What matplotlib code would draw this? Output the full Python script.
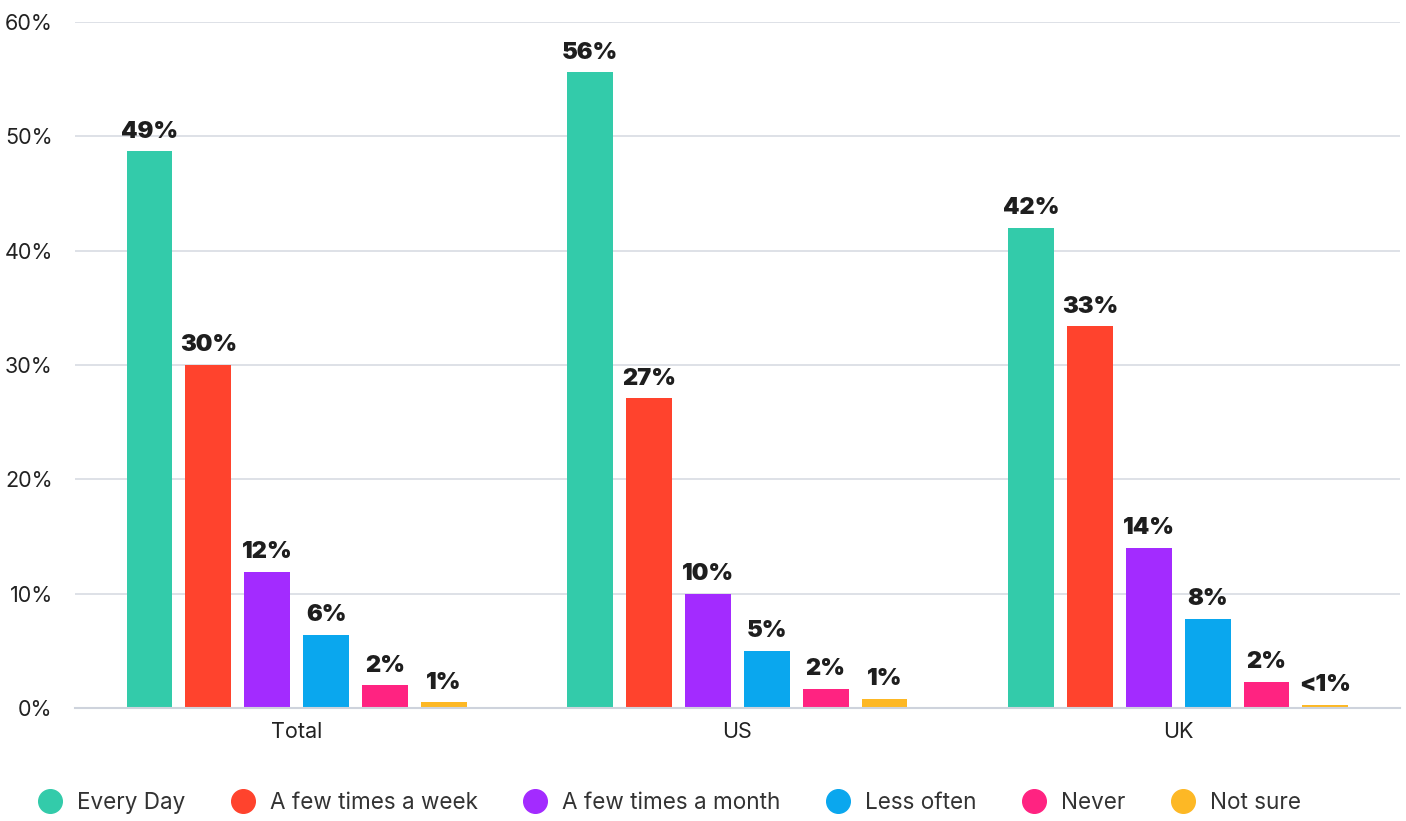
import matplotlib.pyplot as plt
import numpy as np

plt.rcParams['font.family'] = ['Inter', 'DejaVu Sans']

groups = ['Total', 'US', 'UK']
series = ['Every Day', 'A few times a week', 'A few times a month', 'Less often', 'Never', 'Not sure']
values = [
    [48.7, 55.6, 42.0],   # Every Day
    [30.0, 27.1, 33.4],   # A few times a week
    [11.9, 10.0, 14.0],   # A few times a month
    [6.4, 5.0, 7.8],      # Less often
    [2.0, 1.7, 2.3],      # Never
    [0.5, 0.8, 0.3],      # Not sure
]
labels = [
    ['49%', '56%', '42%'],
    ['30%', '27%', '33%'],
    ['12%', '10%', '14%'],
    ['6%', '5%', '8%'],
    ['2%', '2%', '2%'],
    ['1%', '1%', '<1%'],
]
colors = ['#33CBAA', '#FF432D', '#A32BFF', '#0AA7EE', '#FF2381', '#FDB825']

fig = plt.figure(figsize=(14.06, 8.21), dpi=100)
ax = fig.add_axes([0.0533, 0.1376, 0.9424, 0.8356])

x = np.arange(len(groups))
width = 0.104
step = 0.1335
for i, (name, vals) in enumerate(zip(series, values)):
    pos = x + (i - 2.5) * step
    bars = ax.bar(pos, vals, width, color=colors[i], label=name, zorder=2)
    for b, lab in zip(bars, labels[i]):
        ax.text(b.get_x() + b.get_width() / 2, b.get_height() + 0.75, lab,
                ha='center', va='bottom', fontsize=17, fontweight='black',
                color='#1e1e1e', zorder=3)

ax.set_xlim(-0.503, 2.503)
ax.set_ylim(0, 60)
ax.set_yticks(range(0, 61, 10))
ax.set_yticklabels([f'{v}%' for v in range(0, 61, 10)])
ax.set_xticks(x)
ax.set_xticklabels(groups)
ax.tick_params(axis='both', length=0, labelsize=15.5, colors='#222222')
ax.tick_params(axis='y', pad=16)
ax.tick_params(axis='x', pad=10)
ax.grid(axis='y', color='#D8DCE3', linewidth=1.2, zorder=0)
ax.set_axisbelow(True)
for s in ['top', 'right', 'left']:
    ax.spines[s].set_visible(False)
ax.spines['bottom'].set_color('#CED3DC')
ax.spines['bottom'].set_linewidth(1.5)

handles = [plt.Line2D([], [], marker='o', linestyle='', markersize=17,
                      markerfacecolor=c, markeredgecolor=c) for c in colors]
fig.legend(handles, series, loc='center', bbox_to_anchor=(0.4725, 0.022),
           ncol=6, frameon=False, fontsize=16.2, handletextpad=0.2,
           columnspacing=1.55, labelcolor='#333333')

plt.savefig('out.png')
